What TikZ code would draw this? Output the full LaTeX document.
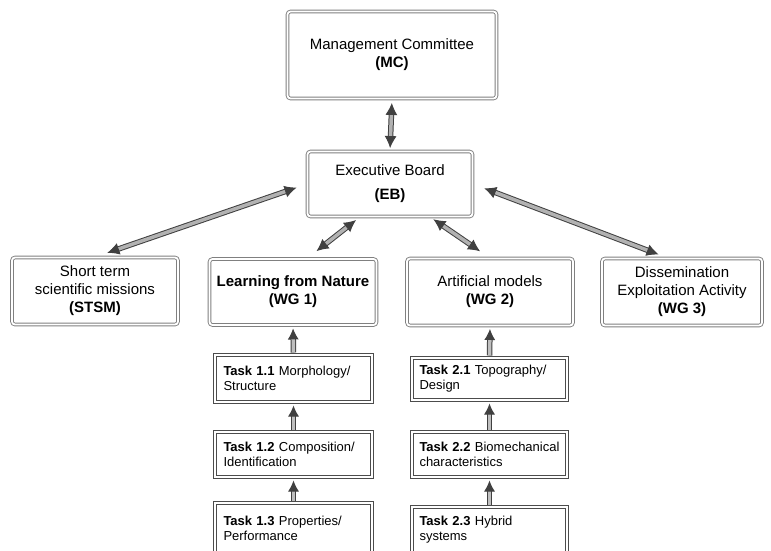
\documentclass[tikz,border=0pt]{standalone}
\usepackage{fontspec}
\setmainfont{Liberation Sans}
\usetikzlibrary{arrows.meta}

\tikzset{
    mainbox/.style={draw=black!50, line width=0.9pt, double=white, double distance=1.8pt,
        rounded corners=3pt, align=center, inner sep=2pt,
        font=\fontsize{15}{18}\selectfont},
    taskbox/.style={rectangle, draw=black!70, line width=1pt, double=white, double distance=1.4pt,
        align=left, text width=140pt, inner sep=1pt,
        font=\fontsize{13}{15}\selectfont},
    linkarrow/.style={draw=black!75, line width=1pt, double=black!30, double distance=3.5pt,
        {Latex[length=12pt,width=12pt]}-{Latex[length=12pt,width=12pt]}},
    uparrow/.style={draw=black!75, line width=1pt, double=black!25, double distance=3.5pt,
        -{Latex[length=11pt,width=11pt]}}
}

\begin{document}
\begin{tikzpicture}[x=1pt, y=-1pt]
\clip (0,0) rectangle (771,550);
\fill[white] (0,0) rectangle (771,550);

% top of the tree
\node[mainbox, minimum width=209pt, minimum height=87pt] (mc) at (392,55)
    {Management Committee\\\textbf{(MC)}};
\node[mainbox, minimum width=165pt, minimum height=65pt] (eb) at (390,184)
    {Executive Board\\[6pt]\textbf{(EB)}};

% second row
\node[mainbox, minimum width=166pt, minimum height=67pt] (stsm) at (95,291)
    {Short term\\scientific missions\\\textbf{(STSM)}};
\node[mainbox, minimum width=167pt, minimum height=66pt] (wg1) at (293,292)
    {\textbf{Learning from Nature}\\\textbf{(WG 1)}};
\node[mainbox, minimum width=166pt, minimum height=67pt] (wg2) at (490,292)
    {Artificial models\\\textbf{(WG 2)}};
\node[mainbox, minimum width=160pt, minimum height=67pt] (wg3) at (682,292)
    {Dissemination\\Exploitation Activity\\\textbf{(WG 3)}};

% tasks of WG 1
\node[taskbox, minimum width=157pt, minimum height=47pt] (t11) at (293.5,378.5)
    {\textbf{Task 1.1} Morphology/\\Structure};
\node[taskbox, minimum width=157pt, minimum height=45pt] (t12) at (293.5,454.5)
    {\textbf{Task 1.2} Composition/\\Identification};
\node[taskbox, minimum width=157pt, minimum height=50pt] (t13) at (293.5,528)
    {\textbf{Task 1.3} Properties/\\Performance};

% tasks of WG 2
\node[taskbox, minimum width=155pt, minimum height=42pt] (t21) at (489.5,379)
    {\textbf{Task 2.1} Topography/\\Design};
\node[taskbox, minimum width=155pt, minimum height=45pt] (t22) at (489.5,454.5)
    {\textbf{Task 2.2} Biomechanical\\characteristics};
\node[taskbox, minimum width=155pt, minimum height=46pt] (t23) at (489.5,530)
    {\textbf{Task 2.3} Hybrid\\systems};

% links
\draw[linkarrow, shorten <=4pt, shorten >=3pt] (mc.south) -- (eb.north);
\draw[linkarrow, shorten <=13pt, shorten >=11pt] (stsm.north) -- (eb.west);
\draw[linkarrow, shorten <=12pt, shorten >=5pt] ([xshift=14pt]wg1.north) -- ([xshift=-30pt]eb.south);
\draw[linkarrow, shorten <=4pt, shorten >=12pt] ([xshift=40pt]eb.south) -- (wg2.north);
\draw[linkarrow, shorten <=12pt, shorten >=10pt] (eb.east) -- ([xshift=-14pt]wg3.north);

\draw[uparrow, shorten <=2pt, shorten >=3pt] (t11.north) -- (wg1.south);
\draw[uparrow, shorten <=2pt, shorten >=3pt] (t12.north) -- (t11.south);
\draw[uparrow, shorten <=2pt, shorten >=3pt] (t13.north) -- (t12.south);
\draw[uparrow, shorten <=2pt, shorten >=3pt] (t21.north) -- (wg2.south);
\draw[uparrow, shorten <=2pt, shorten >=3pt] (t22.north) -- (t21.south);
\draw[uparrow, shorten <=2pt, shorten >=3pt] (t23.north) -- (t22.south);
\end{tikzpicture}
\end{document}
